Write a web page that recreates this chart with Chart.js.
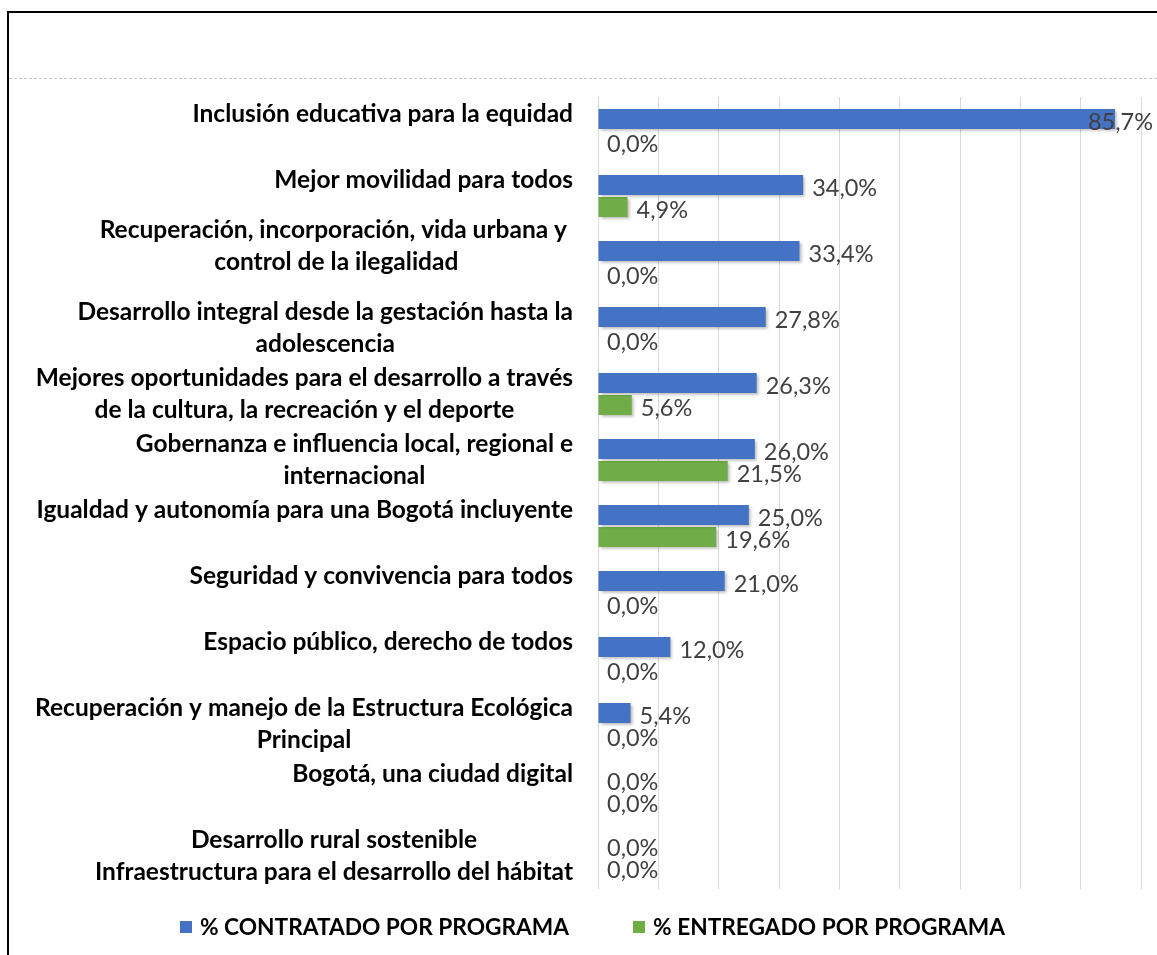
<!DOCTYPE html>
<html>
<head>
<meta charset="utf-8">
<script src="https://cdn.jsdelivr.net/npm/chart.js@4/dist/chart.umd.min.js"></script>
<style>
  body { margin: 0; background: #fff; }
  #wrap { position: relative; width: 1157px; height: 955px; overflow: hidden; font-family: Lato, sans-serif; }
  #frame { position: absolute; left: 7px; top: 11px; width: 1300px; height: 1100px; border-left: 2px solid #000; border-top: 2px solid #000; }
  #rule { position: absolute; left: 9px; right: 0; top: 78px; border-top: 1px dashed #c8c8c8; }
  #chart { position: absolute; left: 0; top: 0; }
  #legend { position: absolute; left: 180px; top: 913px; display: flex; gap: 64px; font-weight: bold; font-size: 22.7px; color: #000; white-space: nowrap; }
  #legend span.box { display: inline-block; width: 12px; height: 12px; margin-right: 8px; vertical-align: 2px; }
</style>
</head>
<body>
<div id="wrap">
  <div id="frame"></div>
  <div id="rule"></div>
  <canvas id="chart" width="1157" height="955"></canvas>
  <div id="legend"></div>
</div>
<script>
// programas (etiquetas del eje, por líneas)
const programas = [
  ["Inclusión educativa para la equidad", ""],
  ["Mejor movilidad para todos", ""],
  ["Recuperación, incorporación, vida urbana y ", "control de la ilegalidad", ""],
  ["Desarrollo integral desde la gestación hasta la", "adolescencia"],
  ["Mejores oportunidades para el desarrollo a través", "de la cultura, la recreación y el deporte"],
  ["Gobernanza e influencia local, regional e", "internacional"],
  ["Igualdad y autonomía para una Bogotá incluyente", ""],
  ["Seguridad y convivencia para todos", ""],
  ["Espacio público, derecho de todos", ""],
  ["Recuperación y manejo de la Estructura Ecológica", "Principal"],
  ["Bogotá, una ciudad digital", ""],
  ["Desarrollo rural sostenible", "Infraestructura para el desarrollo del hábitat"],
];

const contratado = [85.7, 34.0, 33.4, 27.8, 26.3, 26.0, 25.0, 21.0, 12.0, 5.4, 0, 0];
const entregado = [0, 4.9, 0, 0, 5.6, 21.5, 19.6, 0, 0, 0, 0, 0];

const series = [
  { label: "% CONTRATADO POR PROGRAMA", color: "#4472C4", data: contratado },
  { label: "% ENTREGADO POR PROGRAMA", color: "#70AD47", data: entregado },
];

const fmt = (v) => v.toFixed(1).replace(".", ",") + "%";

const sombra = {
  id: "sombra",
  beforeDatasetsDraw(chart) {
    const ctx = chart.ctx;
    ctx.save();
    ctx.shadowColor = "rgba(0,0,0,0.3)";
    ctx.shadowOffsetX = 2;
    ctx.shadowOffsetY = 2;
    ctx.shadowBlur = 3;
  },
  afterDatasetsDraw(chart) {
    chart.ctx.restore();
  },
};

const valores = {
  id: "valores",
  afterDatasetsDraw(chart) {
    const ctx = chart.ctx;
    ctx.save();
    ctx.font = "23.5px Lato";
    ctx.fillStyle = "#404040";
    ctx.textBaseline = "middle";
    chart.data.datasets.forEach((ds, i) => {
      chart.getDatasetMeta(i).data.forEach((bar, j) => {
        const txt = fmt(ds.data[j]);
        const w = ctx.measureText(txt).width;
        let x = bar.x + 9;
        if (x + w > chart.width - 4) x = chart.width - 4 - w;
        ctx.fillText(txt, x, bar.y + 3);
      });
    });
    ctx.restore();
  },
};

const etiquetas = {
  id: "etiquetas",
  afterDraw(chart) {
    const { ctx, chartArea, scales } = chart;
    ctx.save();
    ctx.font = "bold 24.5px Lato";
    ctx.fillStyle = "#000";
    ctx.textAlign = "center";
    ctx.textBaseline = "middle";
    programas.forEach((lines, i) => {
      const w = Math.max(...lines.map((l) => ctx.measureText(l).width));
      const cx = chartArea.left - 25 - w / 2;
      const cy = scales.y.getPixelForTick(i);
      lines.forEach((l, k) => {
        ctx.fillText(l, cx, cy + (k - (lines.length - 1) / 2) * 32);
      });
    });
    ctx.restore();
  },
};

new Chart(document.getElementById("chart"), {
  type: "bar",
  data: {
    labels: programas,
    datasets: series.map((s) => ({
      label: s.label,
      data: s.data,
      backgroundColor: s.color,
      categoryPercentage: 0.667,
      barPercentage: 0.91,
    })),
  },
  options: {
    indexAxis: "y",
    responsive: false,
    animation: false,
    layout: { padding: { top: 97, right: 16, bottom: 66, left: 0 } },
    plugins: {
      legend: { display: false },
      tooltip: { enabled: false },
    },
    scales: {
      x: {
        min: 0,
        max: 90,
        ticks: { display: false, stepSize: 10 },
        grid: { color: "#d9d9d9", drawTicks: false },
        border: { display: false },
      },
      y: {
        ticks: { display: false, autoSkip: false },
        grid: { display: false },
        border: { display: false },
        afterFit: (s) => { s.width = 598; },
      },
    },
  },
  plugins: [sombra, valores, etiquetas],
});

const legend = document.getElementById("legend");
series.forEach((s) => {
  const item = document.createElement("div");
  item.innerHTML = '<span class="box" style="background:' + s.color + '"></span>' + s.label;
  legend.appendChild(item);
});
</script>
</body>
</html>
